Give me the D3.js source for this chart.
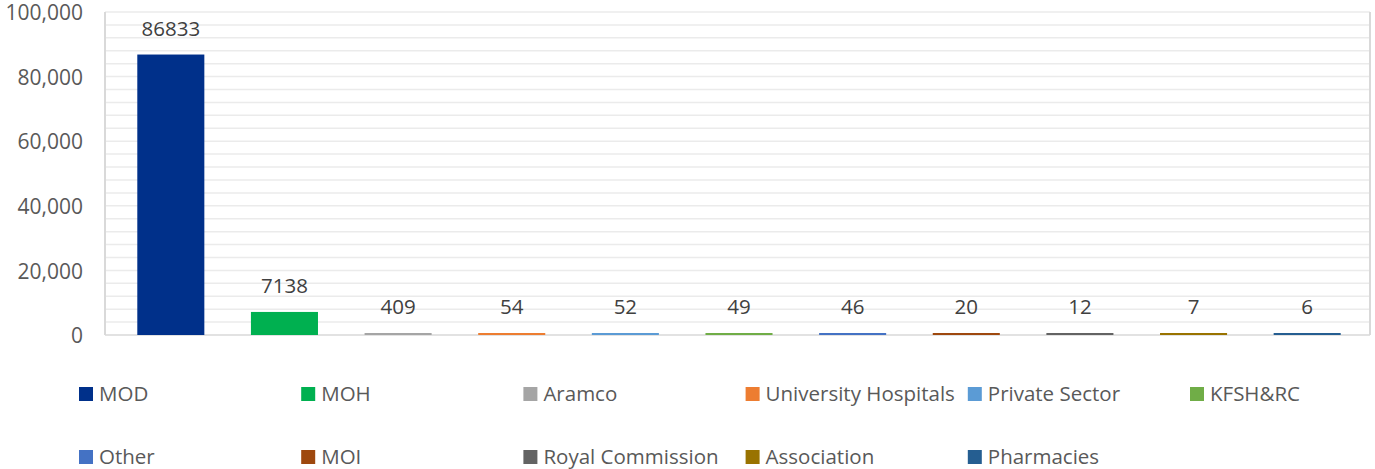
<!DOCTYPE html>
<html>
<head>
<meta charset="utf-8">
<script src="https://cdn.jsdelivr.net/npm/d3@7"></script>
<style>
  body { margin: 0; background: #ffffff; }
  svg { display: block; font-family: "Open Sans", sans-serif; }
</style>
</head>
<body>
<script>
// chart data
const sectors = ["MOD", "MOH", "Aramco", "University Hospitals", "Private Sector", "KFSH&RC",
                 "Other", "MOI", "Royal Commission", "Association", "Pharmacies"];
const counts = [86833, 7138, 409, 54, 52, 49, 46, 20, 12, 7, 6];
const colors = ["#00308a", "#00b050", "#a5a5a5", "#ed7d31", "#5b9bd5", "#70ad47",
                "#4472c4", "#9e480e", "#636363", "#997300", "#255e91"];
const yTicks = [0, 20000, 40000, 60000, 80000, 100000];

const width = 1375, height = 469;
const plot = {left: 105, right: 1370, top: 12, bottom: 335};

const svg = d3.select("body").append("svg")
    .attr("width", width)
    .attr("height", height);

const x = d3.scaleBand()
    .domain(sectors)
    .range([114, 1364])
    .paddingInner(0.41)
    .paddingOuter(0.205);

const y = d3.scaleLinear()
    .domain([0, 100000])
    .range([plot.bottom, plot.top]);

// light gridlines every 4000
svg.append("g")
    .selectAll("line")
    .data(d3.range(4000, 100001, 4000))
    .join("line")
    .attr("x1", plot.left)
    .attr("x2", plot.right)
    .attr("y1", d => y(d))
    .attr("y2", d => y(d))
    .attr("stroke", "#ebebeb")
    .attr("stroke-width", 1.5);

// frame lines left / right / bottom
svg.append("line")
    .attr("x1", plot.left).attr("x2", plot.left)
    .attr("y1", plot.top).attr("y2", plot.bottom)
    .attr("stroke", "#d9d9d9").attr("stroke-width", 2);
svg.append("line")
    .attr("x1", plot.right).attr("x2", plot.right)
    .attr("y1", plot.top).attr("y2", plot.bottom)
    .attr("stroke", "#d9d9d9").attr("stroke-width", 2);
svg.append("line")
    .attr("x1", plot.left).attr("x2", plot.right)
    .attr("y1", plot.bottom).attr("y2", plot.bottom)
    .attr("stroke", "#d9d9d9").attr("stroke-width", 1.5);

// y axis labels
const yAxis = svg.append("g")
    .attr("transform", "translate(" + plot.left + ",1)")
    .call(d3.axisLeft(y).tickValues(yTicks).tickFormat(d3.format(",")).tickSize(0).tickPadding(22));
yAxis.select(".domain").remove();
yAxis.selectAll("text")
    .style("font-size", "21px")
    .style("font-family", "Open Sans")
    .attr("fill", "#595959");

// bars
svg.selectAll(".bar")
    .data(sectors)
    .join("rect")
    .attr("class", "bar")
    .attr("x", d => x(d))
    .attr("width", x.bandwidth())
    .attr("y", (d, i) => Math.min(y(counts[i]), y(0) - 2))
    .attr("height", (d, i) => Math.max(y(0) - y(counts[i]), 2))
    .attr("fill", (d, i) => colors[i]);

// value labels
svg.selectAll(".val")
    .data(sectors)
    .join("text")
    .attr("class", "val")
    .attr("x", d => x(d) + x.bandwidth() / 2)
    .attr("y", (d, i) => Math.min(y(counts[i]), y(0) - 2) - 19)
    .attr("text-anchor", "middle")
    .style("font-size", "20.5px")
    .attr("fill", "#404040")
    .text((d, i) => counts[i]);

// legend, 6 per row
const legend = svg.append("g");
const item = legend.selectAll("g")
    .data(sectors)
    .join("g")
    .attr("transform", (d, i) => "translate(" + (79 + (i % 6) * 222.2) + "," + (387 + Math.floor(i / 6) * 63) + ")");
item.append("rect")
    .attr("width", 14)
    .attr("height", 14)
    .attr("fill", (d, i) => colors[i]);
item.append("text")
    .attr("x", 20)
    .attr("y", 7)
    .attr("dy", "0.35em")
    .style("font-size", "20.5px")
    .attr("fill", "#595959")
    .text(d => d);
</script>
</body>
</html>
